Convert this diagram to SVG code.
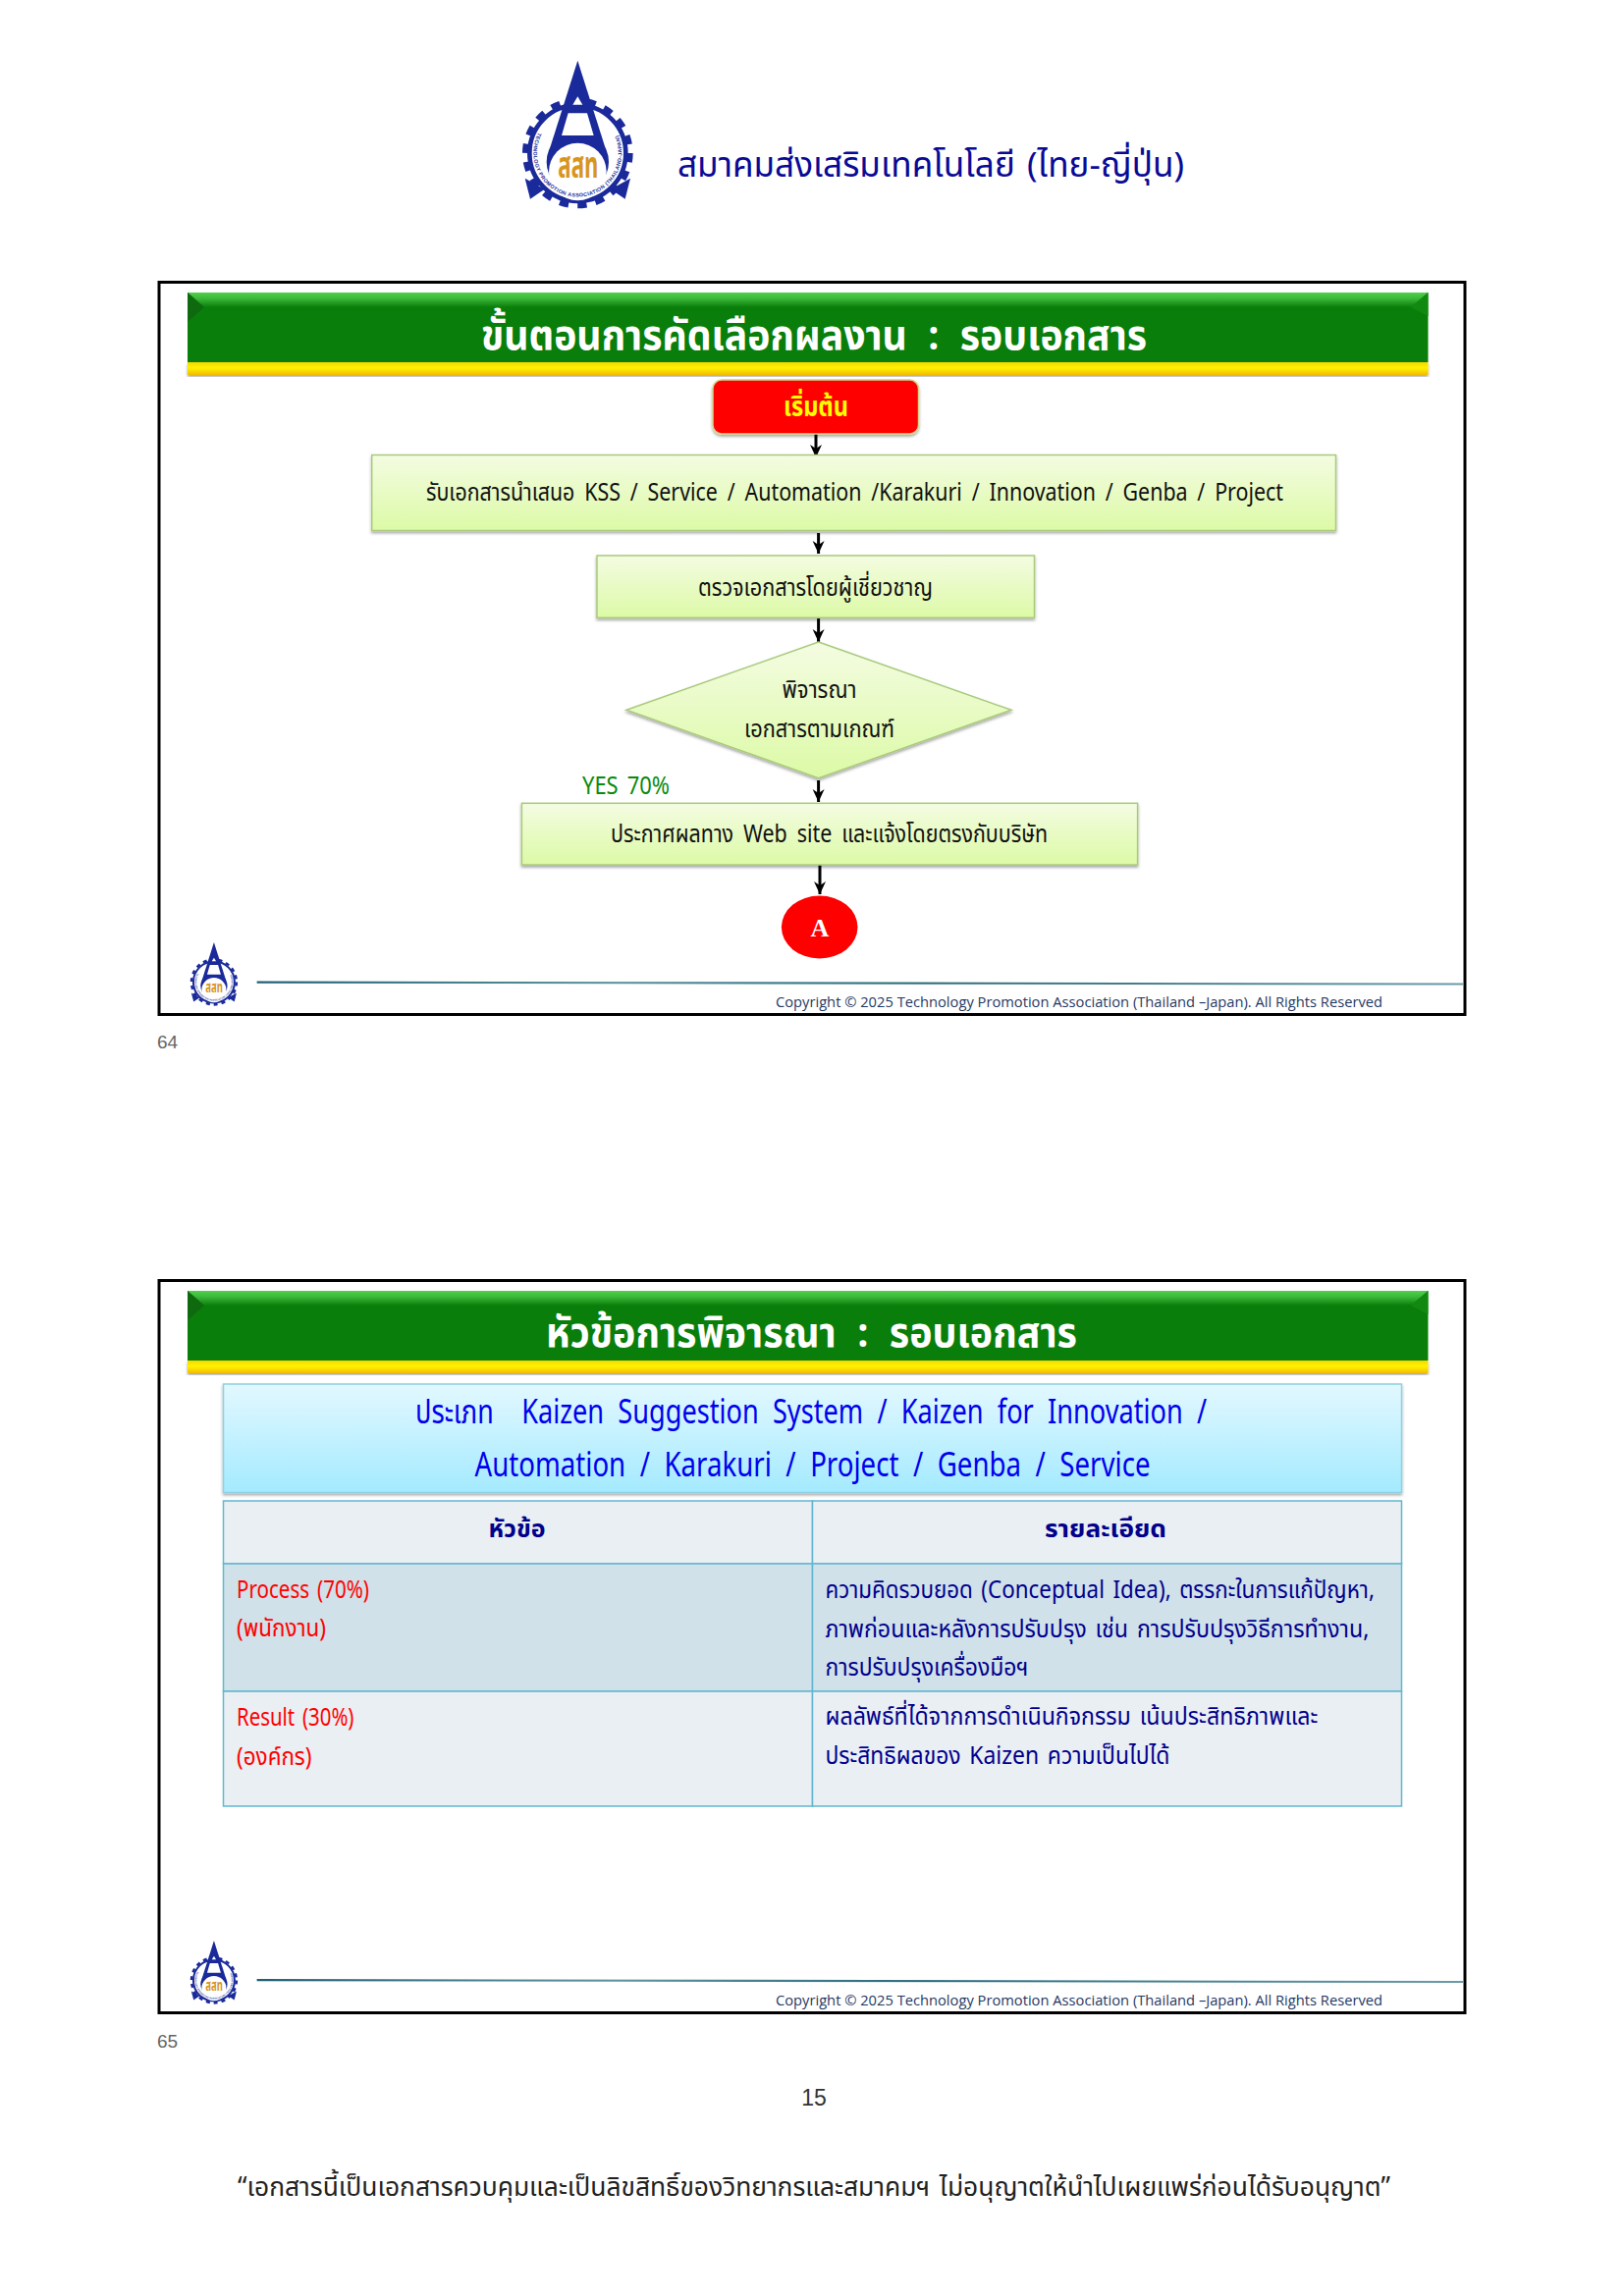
<svg xmlns="http://www.w3.org/2000/svg" width="1654" height="2339" viewBox="0 0 1654 2339">
<style>
text{font-family:"Noto Sans Thai","Liberation Sans Narrow","Noto Sans","DejaVu Sans",sans-serif}
.t{fill:#111;font-size:25px;word-spacing:5px}
.title{fill:#fff;font-size:42px;font-weight:bold;word-spacing:12px}
.navy{fill:#00008c;font-size:25px;word-spacing:3px}
.red{fill:#f00;font-size:25px;word-spacing:3px}
.blue{fill:#0000ee;font-size:34px;word-spacing:9px}
.cp{fill:#1f3864;font-size:14px;font-family:"Open Sans","Noto Sans",sans-serif}
.pg{fill:#666;font-size:19px;font-family:"Liberation Sans",sans-serif}
.frame{fill:#fff;stroke:#000;stroke-width:3}
.box{fill:url(#gBox);stroke:#a9ca7c;stroke-width:1.5;filter:url(#sh)}
.cell{stroke:#62b6d0;stroke-width:1.5}
.conn{fill:none;stroke:#000;stroke-width:3;marker-end:url(#arr)}
.lb{fill:#1a2a9a}
</style>
<defs>
<linearGradient id="gBox" x1="0" y1="0" x2="0" y2="1"><stop offset="0" stop-color="#f4fce2"/><stop offset="1" stop-color="#dcfaa6"/></linearGradient>
<linearGradient id="gBlue" x1="0" y1="0" x2="0" y2="1"><stop offset="0" stop-color="#e2f8ff"/><stop offset="1" stop-color="#a4eaff"/></linearGradient>
<linearGradient id="gTop" x1="0" y1="0" x2="0" y2="1"><stop offset="0" stop-color="#4fd24a"/><stop offset=".4" stop-color="#3cb83a"/><stop offset="1" stop-color="#0a7e0a"/></linearGradient>
<linearGradient id="gYel" x1="0" y1="0" x2="0" y2="1"><stop offset="0" stop-color="#f4d800"/><stop offset=".45" stop-color="#fff200"/><stop offset="1" stop-color="#f2bb00"/></linearGradient>
<linearGradient id="gLine" x1="0" y1="0" x2="1" y2="0"><stop offset="0" stop-color="#1f5f73"/><stop offset=".3" stop-color="#5f95a0"/><stop offset=".55" stop-color="#2a6a7c"/><stop offset="1" stop-color="#6a9ba8"/></linearGradient>
<filter id="sh" x="-5%" y="-10%" width="110%" height="125%"><feDropShadow dx="0" dy="2" stdDeviation="1.5" flood-color="#000" flood-opacity=".35"/></filter>
<marker id="arr" viewBox="0 0 16 14" markerWidth="16" markerHeight="14" refX="14" refY="7" orient="auto" markerUnits="userSpaceOnUse"><path d="M1 1 L14 7 L1 13 L5 7 Z" fill="#000"/></marker>
<path id="ring" d="M85 255 A135 135 0 1 0 325 255"/>
<g id="bar">
<rect x="0" y="0" width="1263.5" height="71" fill="#0a7e0a"/>
<polygon points="0,0 1263.5,0 1246,15 17,15" fill="url(#gTop)"/>
<polygon points="0,0 17,15 0,30" fill="#0f6a0f"/>
<polygon points="1263.5,0 1246,15 1263.5,24" fill="#128a12"/>
<rect x="0" y="71" width="1263.5" height="13" fill="url(#gYel)" filter="url(#sh)"/>
</g>
<g id="logo">
<circle cx="205" cy="318" r="160" fill="none" stroke="#1a2a9a" stroke-width="18" stroke-dasharray="28 27.8"/>
<circle cx="205" cy="318" r="147" fill="#fff" stroke="#1a2a9a" stroke-width="14"/>
<polygon class="lb" points="44,395 60,458 104,428"/>
<polygon class="lb" points="366,395 350,458 306,428"/>
<circle class="lb" cx="205" cy="345" r="95"/>
<polygon class="lb" points="205,35 292,310 118,310"/>
<polygon points="205,145 190,170 220,170" fill="#fff"/>
<polygon points="176,196 234,196 254,264 156,264" fill="#fff"/>
<circle cx="205" cy="375" r="88" fill="#fff"/>
<text font-size="16" font-weight="bold" fill="#1a2a9a" style="font-family:'Liberation Sans',sans-serif" letter-spacing="1.2"><textPath href="#ring">TECHNOLOGY PROMOTION ASSOCIATION (THAILAND-JAPAN)</textPath></text>
<text x="145" y="393" textLength="123" lengthAdjust="spacingAndGlyphs" font-size="112" font-weight="bold" fill="#d8951f">สสท</text>
</g>
</defs>
<rect width="1654" height="2339" fill="#fff"/>

<g id="header">
<use href="#logo" transform="translate(520 50) scale(.3333)"/>
<text x="690" y="180" textLength="516" lengthAdjust="spacingAndGlyphs" style="fill:#0a0a96;font-size:35px;word-spacing:3px">สมาคมส่งเสริมเทคโนโลยี (ไทย-ญี่ปุ่น)</text>
</g>

<g id="slide64">
<rect class="frame" x="162" y="287.5" width="1330" height="746"/>
<use href="#bar" transform="translate(191 298)"/>
<text class="title" x="490" y="356" textLength="678" lengthAdjust="spacingAndGlyphs">ขั้นตอนการคัดเลือกผลงาน : รอบเอกสาร</text>
<use href="#logo" transform="translate(188.6 955) scale(.143)"/>
<polygon points="261.6,999.5 1490,1001.5 1490,1003.5 261.6,1001.7" fill="url(#gLine)"/>
<text class="cp" x="790" y="1026" textLength="618" lengthAdjust="spacingAndGlyphs">Copyright © 2025 Technology Promotion Association (Thailand –Japan). All Rights Reserved</text>
<text class="pg" x="160" y="1068">64</text>
</g>

<g id="connectors">
<path class="conn" d="M831 442V466"/>
<path class="conn" d="M833.6 543V564"/>
<path class="conn" d="M833.6 629V654"/>
<path class="conn" d="M833.6 795V817"/>
<path class="conn" d="M835 881V911"/>
</g>

<g id="start"><rect x="726" y="387" width="209.5" height="55" rx="9" fill="#f00" stroke="#d2d28a" stroke-width="1.5" filter="url(#sh)"/>
<text x="798" y="424" textLength="66" lengthAdjust="spacingAndGlyphs" style="fill:#ff0;font-size:29px;font-weight:bold">เริ่มต้น</text></g>

<g id="receive"><rect class="box" x="378.7" y="463.5" width="981.8" height="77"/>
<text class="t" x="434" y="510" textLength="873" lengthAdjust="spacingAndGlyphs">รับเอกสารนำเสนอ KSS / Service / Automation /Karakuri / Innovation / Genba / Project</text></g>

<g id="review"><rect class="box" x="608" y="566" width="445.5" height="63.3"/>
<text class="t" x="711" y="607" textLength="239" lengthAdjust="spacingAndGlyphs">ตรวจเอกสารโดยผู้เชี่ยวชาญ</text></g>

<g id="decision"><polygon points="833.6,654 1030,723.3 833.6,792.7 638,723.3" fill="url(#gBox)" stroke="#a9ca7c" stroke-width="1.5" filter="url(#sh)"/>
<text class="t" x="796.5" y="711" textLength="76" lengthAdjust="spacingAndGlyphs">พิจารณา</text>
<text class="t" x="758" y="751" textLength="153" lengthAdjust="spacingAndGlyphs">เอกสารตามเกณฑ์</text></g>

<text id="yes" x="593" y="809" textLength="89" lengthAdjust="spacingAndGlyphs" style="fill:#0a8a0a;font-size:26px;word-spacing:4px">YES 70%</text>

<g id="announce"><rect class="box" x="531.4" y="818.3" width="627.2" height="62.7"/>
<text class="t" x="622" y="858" textLength="445" lengthAdjust="spacingAndGlyphs">ประกาศผลทาง Web site และแจ้งโดยตรงกับบริษัท</text></g>

<g id="nodeA"><ellipse cx="834.7" cy="944.5" rx="38.8" ry="32" fill="#f00"/>
<text x="835" y="954" text-anchor="middle" style="fill:#fff;font-size:26px;font-weight:bold;font-family:'Liberation Serif',serif">A</text></g>

<g id="slide65">
<rect class="frame" x="162" y="1304.5" width="1330" height="746"/>
<use href="#bar" transform="translate(191 1315)"/>
<text class="title" x="556" y="1372" textLength="541" lengthAdjust="spacingAndGlyphs">หัวข้อการพิจารณา : รอบเอกสาร</text>
<g id="types"><rect x="227.5" y="1410" width="1200" height="110.5" fill="url(#gBlue)" stroke="#8fd0e0" stroke-width="1.5" filter="url(#sh)"/>
<text class="blue" x="423" y="1450" textLength="806" lengthAdjust="spacingAndGlyphs">ประเภท&#160;&#160;Kaizen Suggestion System / Kaizen for Innovation /</text>
<text class="blue" x="483.5" y="1503.5" textLength="688" lengthAdjust="spacingAndGlyphs">Automation / Karakuri / Project / Genba / Service</text></g>
<g id="table">
<rect class="cell" x="227.5" y="1529" width="600" height="64" fill="#eaeff3"/>
<rect class="cell" x="827.5" y="1529" width="600" height="64" fill="#eaeff3"/>
<rect class="cell" x="227.5" y="1593" width="600" height="130" fill="#d0e1e9"/>
<rect class="cell" x="827.5" y="1593" width="600" height="130" fill="#d0e1e9"/>
<rect class="cell" x="227.5" y="1723" width="600" height="117" fill="#eaeff3"/>
<rect class="cell" x="827.5" y="1723" width="600" height="117" fill="#eaeff3"/>
<text class="navy" x="526.5" y="1565.5" text-anchor="middle" font-weight="bold">หัวข้อ</text>
<text class="navy" x="1126" y="1565.5" text-anchor="middle" font-weight="bold" textLength="124" lengthAdjust="spacingAndGlyphs">รายละเอียด</text>
<text class="red" x="241" y="1628" textLength="135" lengthAdjust="spacingAndGlyphs">Process (70%)</text>
<text class="red" x="241" y="1667" textLength="91" lengthAdjust="spacingAndGlyphs">(พนักงาน)</text>
<text class="red" x="241" y="1757.5" textLength="119.5" lengthAdjust="spacingAndGlyphs">Result (30%)</text>
<text class="red" x="241" y="1797.5" textLength="76.5" lengthAdjust="spacingAndGlyphs">(องค์กร)</text>
<text class="navy" x="840.4" y="1627.7" textLength="559.5" lengthAdjust="spacingAndGlyphs">ความคิดรวบยอด (Conceptual Idea), ตรรกะในการแก้ปัญหา,</text>
<text class="navy" x="840.4" y="1667.7" textLength="554" lengthAdjust="spacingAndGlyphs">ภาพก่อนและหลังการปรับปรุง เช่น การปรับปรุงวิธีการทำงาน,</text>
<text class="navy" x="840.4" y="1707.3" textLength="207" lengthAdjust="spacingAndGlyphs">การปรับปรุงเครื่องมือฯ</text>
<text class="navy" x="840.4" y="1757.3" textLength="502" lengthAdjust="spacingAndGlyphs">ผลลัพธ์ที่ได้จากการดำเนินกิจกรรม เน้นประสิทธิภาพและ</text>
<text class="navy" x="840.4" y="1797.3" textLength="351" lengthAdjust="spacingAndGlyphs">ประสิทธิผลของ Kaizen ความเป็นไปได้</text>
</g>
<use href="#logo" transform="translate(188.6 1972) scale(.143)"/>
<polygon points="261.6,2016 1490,2018 1490,2020 261.6,2018.2" fill="url(#gLine)"/>
<text class="cp" x="790" y="2043" textLength="618" lengthAdjust="spacingAndGlyphs">Copyright © 2025 Technology Promotion Association (Thailand –Japan). All Rights Reserved</text>
<text class="pg" x="160" y="2086">65</text>
</g>

<g id="footer">
<text x="829" y="2145" text-anchor="middle" style="fill:#333;font-size:23px;font-family:'Liberation Sans',sans-serif">15</text>
<text x="242" y="2237" textLength="1174" lengthAdjust="spacingAndGlyphs" style="fill:#222;font-size:27px;word-spacing:3px">“เอกสารนี้เป็นเอกสารควบคุมและเป็นลิขสิทธิ์ของวิทยากรและสมาคมฯ ไม่อนุญาตให้นำไปเผยแพร่ก่อนได้รับอนุญาต”</text>
</g>
</svg>
